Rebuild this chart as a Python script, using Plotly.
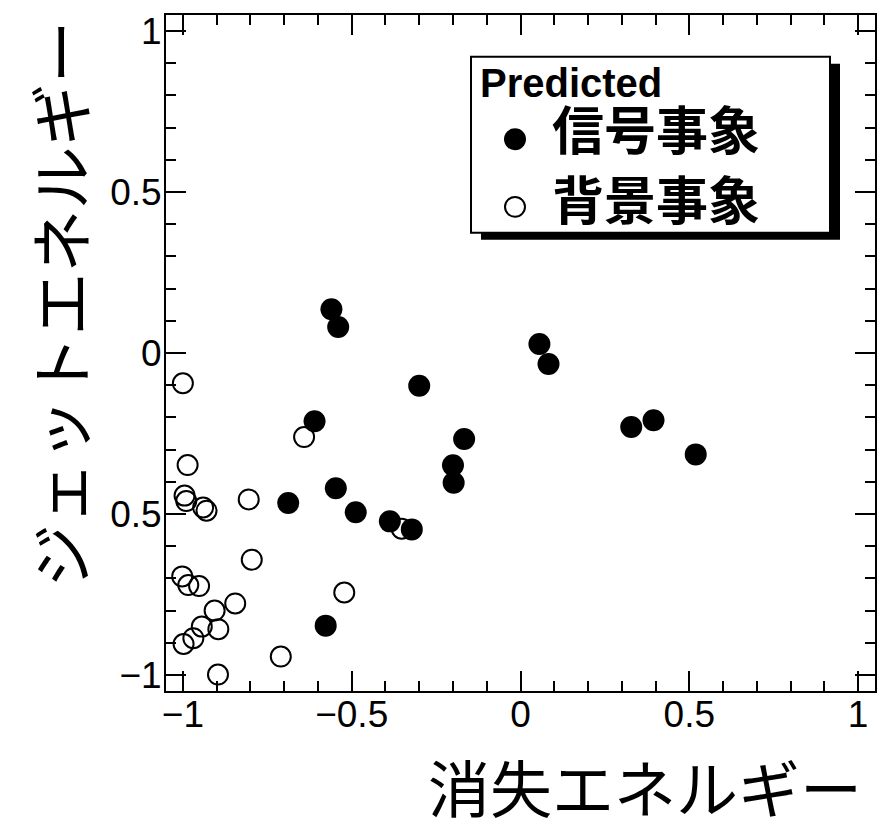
import plotly.graph_objects as go

# --- data -------------------------------------------------------------
signal_x = [-0.560, -0.540, -0.300, -0.610, -0.167, -0.200, -0.198, -0.547, -0.688,
            -0.488, -0.387, -0.322, -0.577, 0.056, 0.083, 0.328, 0.394, 0.519]
signal_y = [0.136, 0.081, -0.102, -0.212, -0.267, -0.349, -0.403, -0.420, -0.466,
            -0.495, -0.523, -0.548, -0.847, 0.028, -0.034, -0.230, -0.209, -0.315]

background_x = [-1.000, -0.986, -0.995, -0.990, -0.940, -0.930, -0.805, -0.641, -0.796,
                -1.002, -0.984, -0.952, -0.845, -0.906, -0.522, -0.944, -0.895, -0.969,
                -0.998, -0.710, -0.896, -0.352]
background_y = [-0.094, -0.348, -0.443, -0.460, -0.480, -0.490, -0.455, -0.261, -0.642,
                -0.694, -0.721, -0.724, -0.778, -0.800, -0.744, -0.850, -0.858, -0.886,
                -0.904, -0.943, -0.999, -0.546]

tick_vals = [-1, -0.5, 0, 0.5, 1]
x_tick_text = ["\u22121", "\u22120.5", "0", "0.5", "1"]
y_tick_text = ["\u22121", "0.5", "0", "0.5", "1"]

x_title = "消失エネルギー"
y_title = "ジェットエネルギー"
legend_header = "Predicted"
legend_labels = ["信号事象", "背景事象"]

# --- page geometry (pixels) --------------------------------------------
W, H = 889, 824
L, R, T, B = 166, 14, 11, 133
PW, PH = W - L - R, H - T - B


def px(x):
    return (x - L) / PW


def py(y):
    return (H - B - y) / PH


LATIN = "Liberation Sans, Arial, Helvetica, sans-serif"
CJK = "Noto Sans CJK JP, Noto Sans CJK SC, sans-serif"

fig = go.Figure()

fig.add_trace(go.Scatter(
    x=background_x, y=background_y, mode="markers", name=legend_labels[1],
    marker=dict(symbol="circle-open", size=20, color="black", line=dict(width=2, color="black")),
    showlegend=False, cliponaxis=False,
))
fig.add_trace(go.Scatter(
    x=signal_x, y=signal_y, mode="markers", name=legend_labels[0],
    marker=dict(symbol="circle", size=22, color="black", line=dict(width=0)),
    showlegend=False, cliponaxis=False,
))

axis_common = dict(
    range=[-1.05, 1.05],
    tickvals=tick_vals,
    showline=True, linewidth=2, linecolor="black", mirror="ticks",
    ticks="inside", ticklen=20, tickwidth=2, tickcolor="black",
    minor=dict(ticks="inside", ticklen=10, tickwidth=2, tickcolor="black",
               dtick=0.1, tick0=0, showgrid=False),
    showgrid=False, zeroline=False,
    tickfont=dict(family=LATIN, size=37, color="black"),
)

fig.update_xaxes(**axis_common, ticktext=x_tick_text, ticklabelstandoff=-10)
fig.update_yaxes(**axis_common, ticktext=y_tick_text, ticklabelstandoff=-5)

# --- boxed legend with drop shadow ---------------------------------------
box = (471, 53, 830, 230)
shadow_dx, shadow_dy = 10, 7
shapes = [
    dict(type="rect", xref="paper", yref="paper",
         x0=px(box[0] + shadow_dx), x1=px(box[2] + shadow_dx),
         y0=py(box[3] + shadow_dy), y1=py(box[1] + shadow_dy),
         fillcolor="black", line=dict(width=0)),
    dict(type="rect", xref="paper", yref="paper",
         x0=px(box[0]), x1=px(box[2]), y0=py(box[3]), y1=py(box[1]),
         fillcolor="white", line=dict(width=2, color="black")),
]
marker_cx = 515
rows_y = [136, 204]
r_fill, r_open = 11, 10
shapes.append(dict(type="circle", xref="paper", yref="paper",
                   x0=px(marker_cx - r_fill), x1=px(marker_cx + r_fill),
                   y0=py(rows_y[0] + r_fill), y1=py(rows_y[0] - r_fill),
                   fillcolor="black", line=dict(width=0)))
shapes.append(dict(type="circle", xref="paper", yref="paper",
                   x0=px(marker_cx - r_open), x1=px(marker_cx + r_open),
                   y0=py(rows_y[1] + r_open), y1=py(rows_y[1] - r_open),
                   fillcolor="rgba(0,0,0,0)", line=dict(width=2, color="black")))

annotations = [
    dict(text="<b>" + legend_header + "</b>", xref="paper", yref="paper",
         x=px(478), y=py(79), xanchor="left", yanchor="middle", showarrow=False,
         height=36, valign="middle",
         font=dict(family=LATIN, size=40, color="black")),
    dict(text="<b>" + legend_labels[0] + "</b>", xref="paper", yref="paper",
         x=px(550), y=py(124), xanchor="left", yanchor="middle", showarrow=False,
         height=56, valign="middle",
         font=dict(family=CJK, size=52, color="black")),
    dict(text="<b>" + legend_labels[1] + "</b>", xref="paper", yref="paper",
         x=px(550), y=py(194), xanchor="left", yanchor="middle", showarrow=False,
         height=56, valign="middle",
         font=dict(family=CJK, size=52, color="black")),
    # axis titles, aligned to the far end of each axis
    dict(text=x_title, xref="paper", yref="paper",
         x=px(864), y=py(787), xanchor="right", yanchor="middle", showarrow=False,
         height=66, valign="middle",
         font=dict(family=CJK, size=62, color="black")),
    dict(text=y_title, xref="paper", yref="paper", textangle=-90,
         x=px(57), y=py(15), xanchor="center", yanchor="top", showarrow=False,
         font=dict(family=CJK, size=63, color="black")),
]

fig.update_layout(
    width=W, height=H,
    margin=dict(l=L, r=R, t=T, b=B, pad=0),
    paper_bgcolor="white", plot_bgcolor="white",
    shapes=shapes, annotations=annotations,
    showlegend=False,
)

fig.write_html("out.html")
